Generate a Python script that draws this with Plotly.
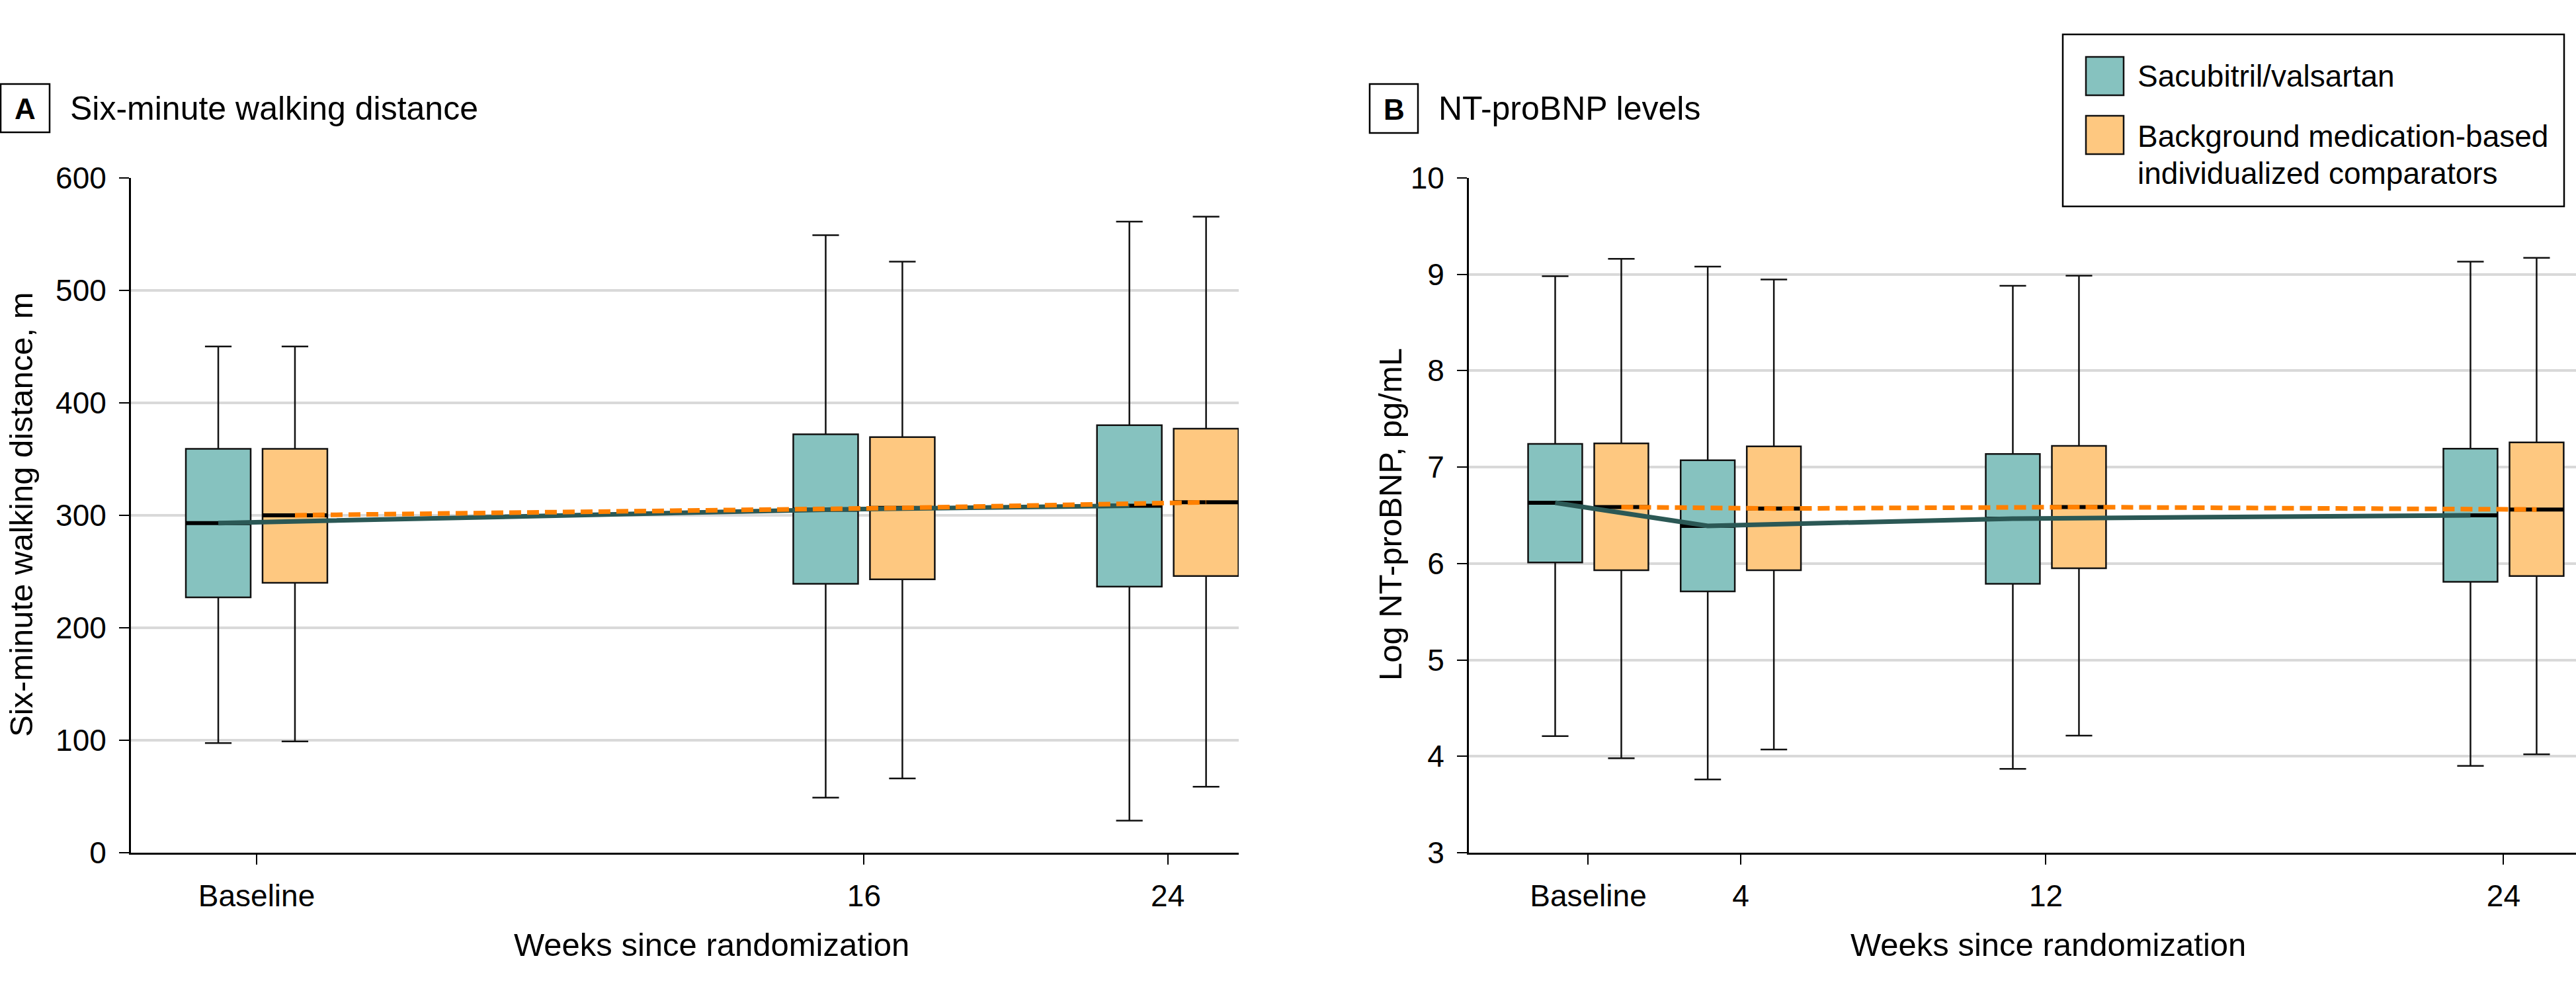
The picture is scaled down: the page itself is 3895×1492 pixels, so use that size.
import plotly.graph_objects as go

# ---------------- data ----------------
series_names = ["Sacubitril/valsartan", "Background medication-based individualized comparators"]

# Panel A: Six-minute walking distance (m)
weeks_a = [0, 16, 24]
ticktext_a = ["Baseline", "16", "24"]
sv_a_upper = [450, 549, 561]
sv_a_q3 = [359, 372, 380]
sv_a_median = [293, 305, 308.5]
sv_a_q1 = [227, 239, 236.5]
sv_a_lower = [97.5, 49, 28.5]
cmp_a_upper = [450, 525.5, 565.5]
cmp_a_q3 = [359, 369.5, 377]
cmp_a_median = [300, 306.5, 311.5]
cmp_a_q1 = [240, 243, 246]
cmp_a_lower = [99, 66, 58.7]

# Panel B: Log NT-proBNP (pg/mL)
weeks_b = [0, 4, 12, 24]
ticktext_b = ["Baseline", "4", "12", "24"]
sv_b_upper = [8.98, 9.08, 8.88, 9.13]
sv_b_q3 = [7.24, 7.07, 7.135, 7.19]
sv_b_median = [6.63, 6.39, 6.465, 6.50]
sv_b_q1 = [6.01, 5.71, 5.79, 5.81]
sv_b_lower = [4.21, 3.76, 3.87, 3.90]
cmp_b_upper = [9.16, 8.945, 8.985, 9.17]
cmp_b_q3 = [7.245, 7.215, 7.22, 7.255]
cmp_b_median = [6.585, 6.57, 6.585, 6.56]
cmp_b_q1 = [5.93, 5.93, 5.95, 5.87]
cmp_b_lower = [3.98, 4.07, 4.215, 4.02]

# ---------------- style ----------------
W, H = 3895, 1492
FONT = "Liberation Sans, Arial, sans-serif"
TEAL_FILL = "#86C2BF"
ORANGE_FILL = "#FEC880"
TEAL_LINE = "#2B5855"
ORANGE_LINE = "#FF8000"
EDGE = "#111111"
GRID = "#d9d9d9"


def px(x):
    return x / W


def py(y):
    return 1 - y / H


fig = go.Figure()


def add_panel(xa, ya, weeks, offset, width, wwidth, sv, cmp):
    for stats, fill, sign in ((sv, TEAL_FILL, -1), (cmp, ORANGE_FILL, 1)):
        up, q3, med, q1, lo = stats
        xs = [w + sign * offset for w in weeks]
        fig.add_trace(go.Box(
            x=xs, q1=q1, median=med, q3=q3, lowerfence=lo, upperfence=up,
            width=width, whiskerwidth=wwidth, fillcolor=fill,
            line=dict(color=EDGE, width=2.5), boxpoints=False,
            xaxis=xa, yaxis=ya, showlegend=False, hoverinfo="skip",
        ))
    # thick median bars
    for stats, sign in ((sv, -1), (cmp, 1)):
        med = stats[2]
        mx, my = [], []
        for w, m in zip(weeks, med):
            c = w + sign * offset
            mx += [c - width / 2, c + width / 2, None]
            my += [m, m, None]
        fig.add_trace(go.Scatter(x=mx, y=my, mode="lines",
                                 line=dict(color="black", width=6),
                                 xaxis=xa, yaxis=ya, showlegend=False, hoverinfo="skip"))
    # connecting median lines
    fig.add_trace(go.Scatter(x=[w - offset for w in weeks], y=sv[2], mode="lines",
                             line=dict(color=TEAL_LINE, width=7),
                             xaxis=xa, yaxis=ya, showlegend=False, hoverinfo="skip"))
    fig.add_trace(go.Scatter(x=[w + offset for w in weeks], y=cmp[2], mode="lines",
                             line=dict(color=ORANGE_LINE, width=7, dash="18px,9px"),
                             xaxis=xa, yaxis=ya, showlegend=False, hoverinfo="skip"))


add_panel("x", "y", weeks_a, 1.01, 1.707, 0.41,
          (sv_a_upper, sv_a_q3, sv_a_median, sv_a_q1, sv_a_lower),
          (cmp_a_upper, cmp_a_q3, cmp_a_median, cmp_a_q1, cmp_a_lower))
add_panel("x2", "y2", weeks_b, 0.867, 1.42, 0.49,
          (sv_b_upper, sv_b_q3, sv_b_median, sv_b_q1, sv_b_lower),
          (cmp_b_upper, cmp_b_q3, cmp_b_median, cmp_b_q1, cmp_b_lower))

ydom = [py(1289), py(268.8)]
tickfont = dict(family=FONT, size=46, color="black")
xcommon = dict(showgrid=False, zeroline=False, showline=True, linecolor="black", linewidth=3,
               ticks="outside", ticklen=15, tickwidth=2, tickcolor="black", tickfont=tickfont,
               ticklabelstandoff=8, automargin=False)
ycommon = dict(showgrid=True, gridcolor=GRID, gridwidth=4, zeroline=False, showline=True,
               linecolor="black", linewidth=3, ticks="outside", ticklen=15, tickwidth=2,
               tickcolor="black", tickfont=tickfont, ticklabelstandoff=10, automargin=False)

fig.update_layout(
    width=W, height=H, margin=dict(l=0, r=0, t=0, b=0, pad=0, autoexpand=False),
    paper_bgcolor="white", plot_bgcolor="white", boxmode="overlay", showlegend=False,
    font=dict(family=FONT, color="black"),
    xaxis=dict(domain=[px(198), px(1873)], range=[-3.31, 25.87], tickvals=weeks_a,
               ticktext=ticktext_a, anchor="y", **xcommon),
    yaxis=dict(domain=ydom, range=[0, 600], tickvals=[0, 100, 200, 300, 400, 500, 600],
               anchor="x", **ycommon),
    xaxis2=dict(domain=[px(2221), 1.0], range=[-3.13, 25.9], tickvals=weeks_b,
                ticktext=ticktext_b, anchor="y2", **xcommon),
    yaxis2=dict(domain=ydom, range=[3, 10], tickvals=[3, 4, 5, 6, 7, 8, 9, 10],
                anchor="x2", **ycommon),
)

ann = []
shapes = []
TITLE = dict(family=FONT, size=50, color="black")
AXT = dict(family=FONT, size=49, color="black")

# axis titles
ann.append(dict(text="Weeks since randomization", x=px(1076), y=py(1428), xref="paper", yref="paper",
                showarrow=False, xanchor="center", yanchor="middle", font=AXT))
ann.append(dict(text="Weeks since randomization", x=px(3097), y=py(1428), xref="paper", yref="paper",
                showarrow=False, xanchor="center", yanchor="middle", font=AXT))
ann.append(dict(text="Six-minute walking distance, m", x=px(32), y=py(778), xref="paper", yref="paper",
                showarrow=False, xanchor="center", yanchor="middle", textangle=-90, font=AXT))
ann.append(dict(text="Log NT-proBNP, pg/mL", x=px(2102), y=py(778), xref="paper", yref="paper",
                showarrow=False, xanchor="center", yanchor="middle", textangle=-90, font=AXT))

# panel labels
for (x0, x1, y0, y1, letter, title, tx) in ((1, 75, 127, 200, "A", "Six-minute walking distance", 104),
                                            (2071, 2144, 127, 201, "B", "NT-proBNP levels", 2173)):
    shapes.append(dict(type="rect", xref="paper", yref="paper", x0=px(x0), x1=px(x1), y0=py(y1), y1=py(y0),
                       line=dict(color="black", width=2.5), fillcolor="white"))
    ann.append(dict(text="<b>%s</b>" % letter, x=px((x0 + x1) / 2), y=py((y0 + y1) / 2 + 1), xref="paper",
                    yref="paper", showarrow=False, xanchor="center", yanchor="middle",
                    font=dict(family=FONT, size=44, color="black")))
    ann.append(dict(text=title, x=px(tx), y=py(164), xref="paper", yref="paper", showarrow=False,
                    xanchor="left", yanchor="middle", font=TITLE))

# custom legend
shapes.append(dict(type="rect", xref="paper", yref="paper", x0=px(3119), x1=px(3877), y0=py(312), y1=py(52),
                   line=dict(color="black", width=2.5), fillcolor="white"))
shapes.append(dict(type="rect", xref="paper", yref="paper", x0=px(3154), x1=px(3211), y0=py(144), y1=py(86),
                   line=dict(color=EDGE, width=2.5), fillcolor=TEAL_FILL))
shapes.append(dict(type="rect", xref="paper", yref="paper", x0=px(3154), x1=px(3211), y0=py(233), y1=py(175),
                   line=dict(color=EDGE, width=2.5), fillcolor=ORANGE_FILL))
LEG = dict(family=FONT, size=46, color="black")
ann.append(dict(text=series_names[0], x=px(3230), y=py(115), xref="paper", yref="paper", showarrow=False,
                xanchor="left", yanchor="middle", font=LEG))
words = series_names[1].split(" ")
ann.append(dict(text=" ".join(words[:2]), x=px(3230), y=py(206), xref="paper", yref="paper", showarrow=False,
                xanchor="left", yanchor="middle", font=LEG))
ann.append(dict(text=" ".join(words[2:]), x=px(3230), y=py(262), xref="paper", yref="paper", showarrow=False,
                xanchor="left", yanchor="middle", font=LEG))

fig.update_layout(annotations=ann, shapes=shapes)

fig.write_html("out.html", config={"displayModeBar": False},
               post_script="document.body.style.margin='0';document.body.style.overflow='hidden';")
